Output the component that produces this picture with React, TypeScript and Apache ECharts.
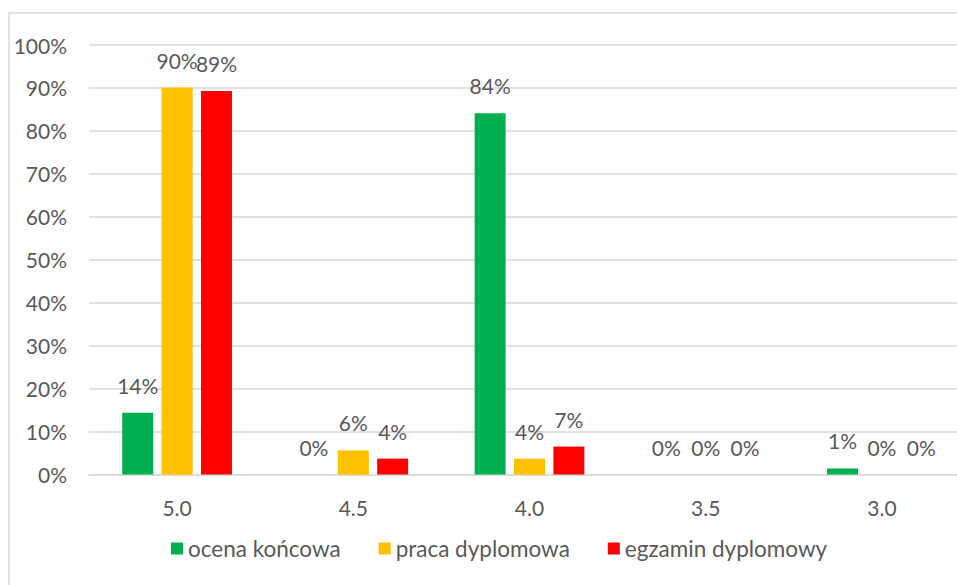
import React, { useEffect, useRef } from "react";
import * as echarts from "echarts";

const categories = ["5.0", "4.5", "4.0", "3.5", "3.0"];
const ocenaKoncowa = [14.4, 0, 84.1, 0, 1.4];
const pracaDyplomowa = [90.1, 5.6, 3.7, 0, 0];
const egzaminDyplomowy = [89.3, 3.7, 6.5, 0, 0];
const seriesNames = ["ocena końcowa", "praca dyplomowa", "egzamin dyplomowy"];
const colors = ["#00B050", "#FFC000", "#FF0000"];

const FONT = "Lato";
const TEXT = "#595959";
const FS = 21;

export default function App() {
  const ref = useRef<HTMLDivElement>(null);
  useEffect(() => {
    if (!ref.current) return;
    const chart = echarts.init(ref.current, undefined, { renderer: "svg" });
    const data = [ocenaKoncowa, pracaDyplomowa, egzaminDyplomowy];
    chart.setOption({
      animation: false,
      textStyle: { fontFamily: FONT, color: TEXT },
      graphic: [
        {
          type: "rect",
          shape: { x: 9, y: 13, width: 980, height: 620 },
          style: { fill: "none", stroke: "#D9D9D9", lineWidth: 1.5 },
          silent: true,
        },
      ],
      grid: {
        left: 89,
        top: 45,
        width: 881,
        height: 429.5,
        containLabel: false,
        outerBoundsMode: "none",
      },
      legend: {
        bottom: 20,
        left: 166,
        itemWidth: 12,
        itemHeight: 12,
        itemGap: 38,
        icon: "rect",
        textStyle: { fontFamily: FONT, fontSize: 22.5, color: TEXT },
        data: seriesNames,
      },
      xAxis: {
        type: "category",
        data: categories,
        axisLine: { lineStyle: { color: "#D9D9D9", width: 1.5 } },
        axisTick: { show: false },
        axisLabel: { fontFamily: FONT, fontSize: FS, color: TEXT, margin: 22 },
      },
      yAxis: {
        type: "value",
        min: 0,
        max: 100,
        interval: 10,
        axisLine: { show: false },
        axisTick: { show: false },
        splitLine: { lineStyle: { color: "#D9D9D9", width: 1.5 } },
        axisLabel: {
          fontFamily: FONT,
          fontSize: FS,
          color: TEXT,
          margin: 22,
          formatter: (v: number) => v + "%",
        },
      },
      series: seriesNames.map((name, i) => ({
        name,
        type: "bar",
        data: data[i],
        barWidth: 31,
        barGap: "27%",
        itemStyle: { color: colors[i] },
        label: {
          show: true,
          position: "top",
          distance: 17,
          fontFamily: FONT,
          fontSize: FS,
          color: TEXT,
          formatter: (p: any) => Math.round(p.value) + "%",
        },
      })),
    });
    return () => chart.dispose();
  }, []);
  return <div ref={ref} style={{ width: 957, height: 585, position: "absolute", left: 0, top: 0 }} />;
}
